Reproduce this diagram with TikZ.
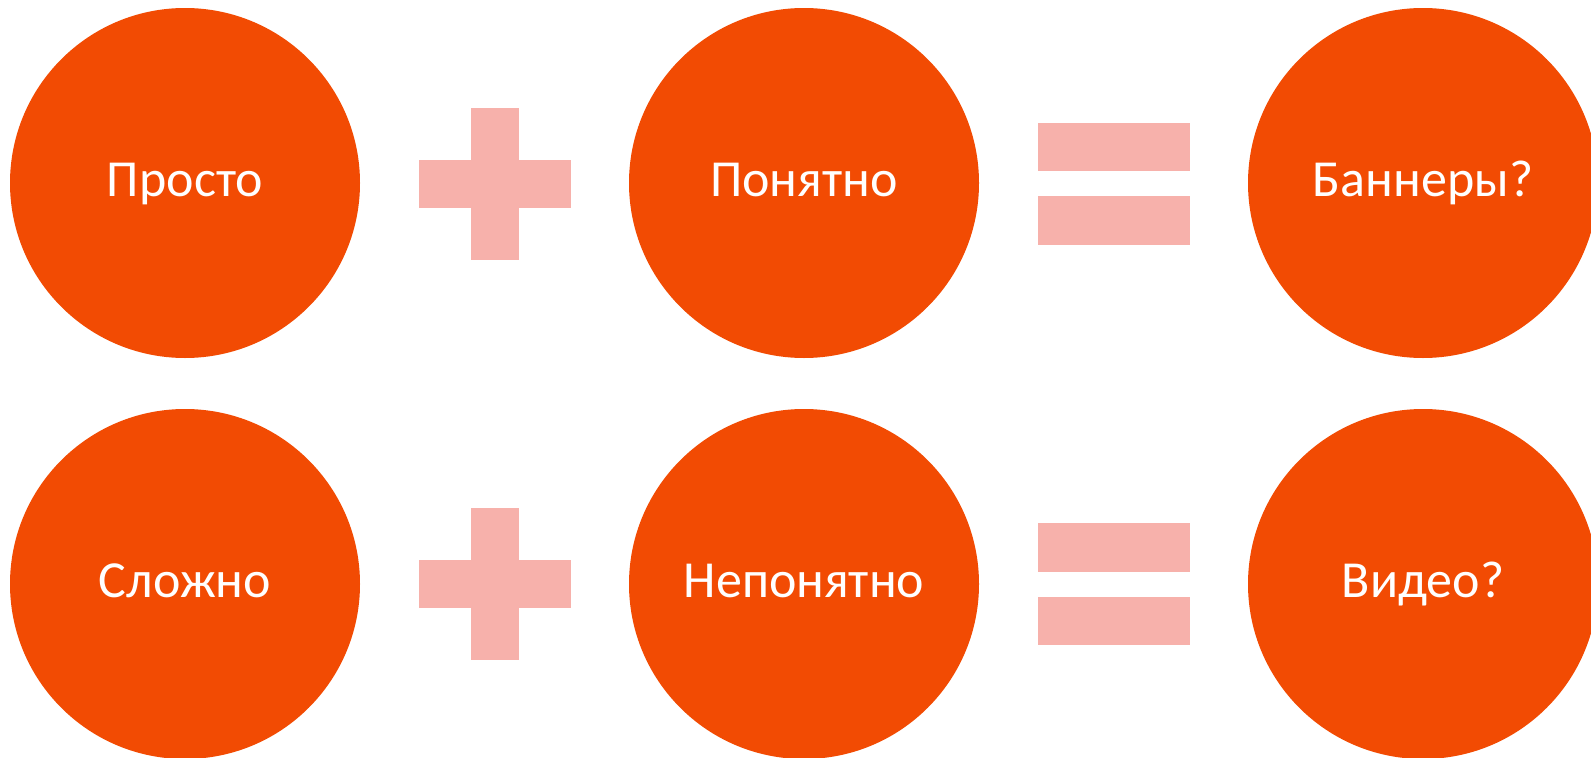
\documentclass[tikz,border=0pt]{standalone}
\usepackage{fontspec}
\setmainfont{Carlito}
\definecolor{orng}{HTML}{F24B03}
\definecolor{pnk}{HTML}{F7B1AB}
\tikzset{
  ball/.style={circle, fill=orng, minimum size=350pt, inner sep=0pt, text=white,
    font=\fontsize{52}{60}\selectfont, text height=27pt, text depth=0pt},
  bar/.style={fill=pnk, draw=none}
}
\begin{document}
\begin{tikzpicture}[x=1pt,y=-1pt]
\useasboundingbox (0,0) rectangle (1591,758);
\clip (0,0) rectangle (1591,758);
\fill[white] (0,0) rectangle (1591,758);
% top row
\node[ball] (c1) at (185,183) {Просто};
\node[ball] (c2) at (804,183) {Понятно};
\node[ball] (c3) at (1423,183) {Баннеры?};
% bottom row
\node[ball] (c4) at (185,584) {Сложно};
\node[ball] (c5) at (804,584) {Непонятно};
\node[ball] (c6) at (1423,584) {Видео?};
% plus signs
\foreach \cy in {183.5,583.5}{
  \fill[bar] (470.5,\cy-76) rectangle (518.5,\cy+76);
  \fill[bar] (419,\cy-24) rectangle (571,\cy+24);
}
% equals signs
\foreach \cy in {183.5,584}{
  \fill[bar] (1038,\cy-61) rectangle (1189.5,\cy-12.5);
  \fill[bar] (1038,\cy+12.5) rectangle (1189.5,\cy+61);
}
\end{tikzpicture}
\end{document}
